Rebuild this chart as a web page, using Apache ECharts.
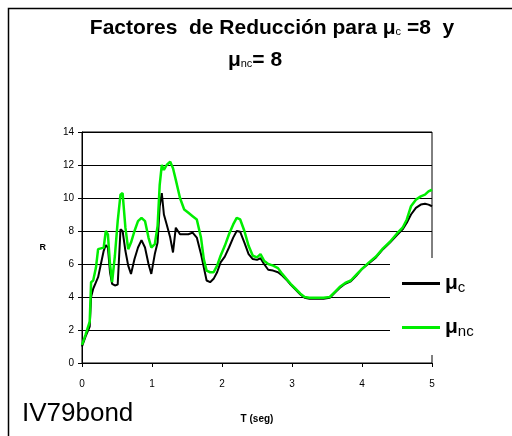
<!DOCTYPE html>
<html><head><meta charset="utf-8">
<script src="https://cdn.jsdelivr.net/npm/echarts@6/dist/echarts.min.js"></script>
<style>html,body{margin:0;padding:0;background:#fff}#c{width:512px;height:436px}</style>
</head><body><div id="c"></div>
<script>
const periods = [0,0.05,0.11,0.13,0.16,0.2,0.23,0.27,0.31,0.34,0.37,0.4,0.43,0.47,0.51,0.55,0.58,0.62,0.66,0.7,0.75,0.8,0.85,0.9,0.95,0.99,1.04,1.08,1.11,1.14,1.17,1.21,1.26,1.3,1.34,1.4,1.46,1.52,1.58,1.64,1.7,1.74,1.78,1.83,1.88,1.93,1.98,2.04,2.1,2.16,2.21,2.26,2.32,2.38,2.44,2.5,2.55,2.6,2.66,2.73,2.8,2.86,2.92,2.98,3.05,3.12,3.18,3.25,3.35,3.45,3.54,3.61,3.68,3.76,3.84,3.92,4.0,4.1,4.2,4.3,4.4,4.5,4.58,4.64,4.7,4.77,4.84,4.9,4.95,5.0];
const rNc = [1.1,1.7,2.5,4.9,5.0,5.8,6.9,6.95,7.0,8.0,7.8,6.0,4.9,6.5,8.6,10.2,10.3,8.2,6.9,7.3,8.0,8.6,8.8,8.6,7.6,7.0,7.2,8.3,10.8,12.0,11.7,12.0,12.2,11.8,11.1,10.0,9.3,9.1,8.9,8.7,7.6,6.3,5.6,5.5,5.5,5.9,6.5,7.1,7.8,8.4,8.8,8.7,8.0,7.1,6.5,6.4,6.6,6.2,6.0,5.9,5.75,5.4,5.1,4.8,4.5,4.2,4.0,3.95,3.95,3.95,4.0,4.3,4.6,4.85,5.0,5.35,5.7,6.1,6.45,6.95,7.35,7.85,8.2,8.7,9.5,9.9,10.1,10.2,10.4,10.5];
const rC = [1.0,1.6,2.2,4.0,4.5,4.9,5.2,6.0,6.8,7.15,7.0,5.5,4.8,4.7,4.75,8.1,8.0,6.8,5.9,5.4,6.3,7.0,7.45,7.0,6.0,5.4,6.6,7.3,9.5,10.3,9.0,8.4,7.6,6.7,8.2,7.8,7.8,7.8,7.9,7.6,6.6,5.8,5.0,4.9,5.1,5.5,6.1,6.45,7.0,7.6,8.0,7.95,7.3,6.6,6.3,6.25,6.35,6.0,5.65,5.6,5.5,5.3,5.05,4.75,4.45,4.15,3.95,3.9,3.9,3.9,3.95,4.25,4.55,4.8,4.95,5.3,5.7,6.05,6.4,6.9,7.3,7.75,8.1,8.5,9.0,9.4,9.6,9.65,9.6,9.5];
const xTicks = [0,1,2,3,4,5];
const yTicks = [0,2,4,6,8,10,12,14];
const titleLine1 = 'Factores  de Reducción para ';
const titleLine1b = ' =8  y';
const seriesNames = ['μc','μnc'];
const footLabel = 'IV79bond';
const xName = 'T (seg)';
const yName = 'R';

const chart = echarts.init(document.getElementById('c'), null, {renderer:'canvas'});
const ff = 'Liberation Sans, Arial, sans-serif';
const subRich = {
  mu:{fontFamily:ff,fontWeight:'bold',fontSize:21,color:'#000',lineHeight:24},
  sub:{fontFamily:ff,fontSize:15,color:'#000',lineHeight:24,padding:[8,0,0,0]}
};
const titleRich = {
  t:{fontFamily:ff,fontWeight:'bold',fontSize:21,fill:'#000',lineHeight:26},
  mu:{fontFamily:ff,fontWeight:'bold',fontSize:21,fill:'#000',lineHeight:26},
  s:{fontFamily:ff,fontSize:11,fill:'#000',lineHeight:26,padding:[7,0,0,0]}
};
chart.setOption({
  animation:false,
  backgroundColor:'#fff',
  graphic:[
    {type:'rect',shape:{x:8.5,y:8.5,width:600,height:600},style:{fill:null,stroke:'#000',lineWidth:1.5},z:-10},
    {type:'text',x:22,y:414,style:{text:footLabel,font:'26px '+ff,fill:'#000',verticalAlign:'middle'}},
    {type:'text',x:272,y:28,style:{
      text:'{t|'+titleLine1+'}{mu|μ}{s|c}{t|'+titleLine1b+'}',
      align:'center',verticalAlign:'middle',rich:titleRich}},
    {type:'text',x:255,y:60,style:{
      text:'{mu|μ}{s|nc}{t|= 8}',
      align:'center',verticalAlign:'middle',rich:titleRich}}
  ],
  grid:{left:82,right:80,top:132,bottom:73,show:true,borderColor:'#000',borderWidth:1,backgroundColor:'transparent'},
  legend:{
    orient:'vertical',left:390,top:258,
    padding:[14,80,16,12],itemGap:21,
    backgroundColor:'#fff',
    itemWidth:38,itemHeight:3,icon:'rect',
    data:seriesNames,
    formatter:function(n){return n==='μc'?'{mu|μ}{sub|c}':'{mu|μ}{sub|nc}';},
    textStyle:{rich:subRich}
  },
  xAxis:{type:'value',min:0,max:5,interval:1,
    name:xName,nameLocation:'middle',nameGap:51,
    nameTextStyle:{fontFamily:ff,fontWeight:'bold',fontSize:10,color:'#000'},
    axisLine:{lineStyle:{color:'#000',width:1}},
    axisTick:{length:4,lineStyle:{color:'#000'}},
    axisLabel:{fontFamily:ff,fontSize:10,color:'#000',margin:16},
    splitLine:{show:false}},
  yAxis:{type:'value',min:0,max:14,interval:2,
    name:yName,nameLocation:'middle',nameRotate:0,nameGap:36,
    nameTextStyle:{fontFamily:ff,fontWeight:'bold',fontSize:9,color:'#000'},
    axisLine:{show:true,lineStyle:{color:'#000',width:1}},
    axisTick:{show:true,length:4,lineStyle:{color:'#000'}},
    axisLabel:{fontFamily:ff,fontSize:10,color:'#000',margin:8},
    splitLine:{show:true,lineStyle:{color:'#000',width:1}}},
  series:[
    {name:seriesNames[0],type:'line',showSymbol:false,symbol:'none',color:'#000',
     lineStyle:{color:'#000',width:2},z:3,
     data:periods.map((t,i)=>[t,rC[i]])},
    {name:seriesNames[1],type:'line',showSymbol:false,symbol:'none',color:'#00ee00',
     lineStyle:{color:'#00ee00',width:2.5},z:4,
     data:periods.map((t,i)=>[t,rNc[i]])}
  ]
});
</script></body></html>
